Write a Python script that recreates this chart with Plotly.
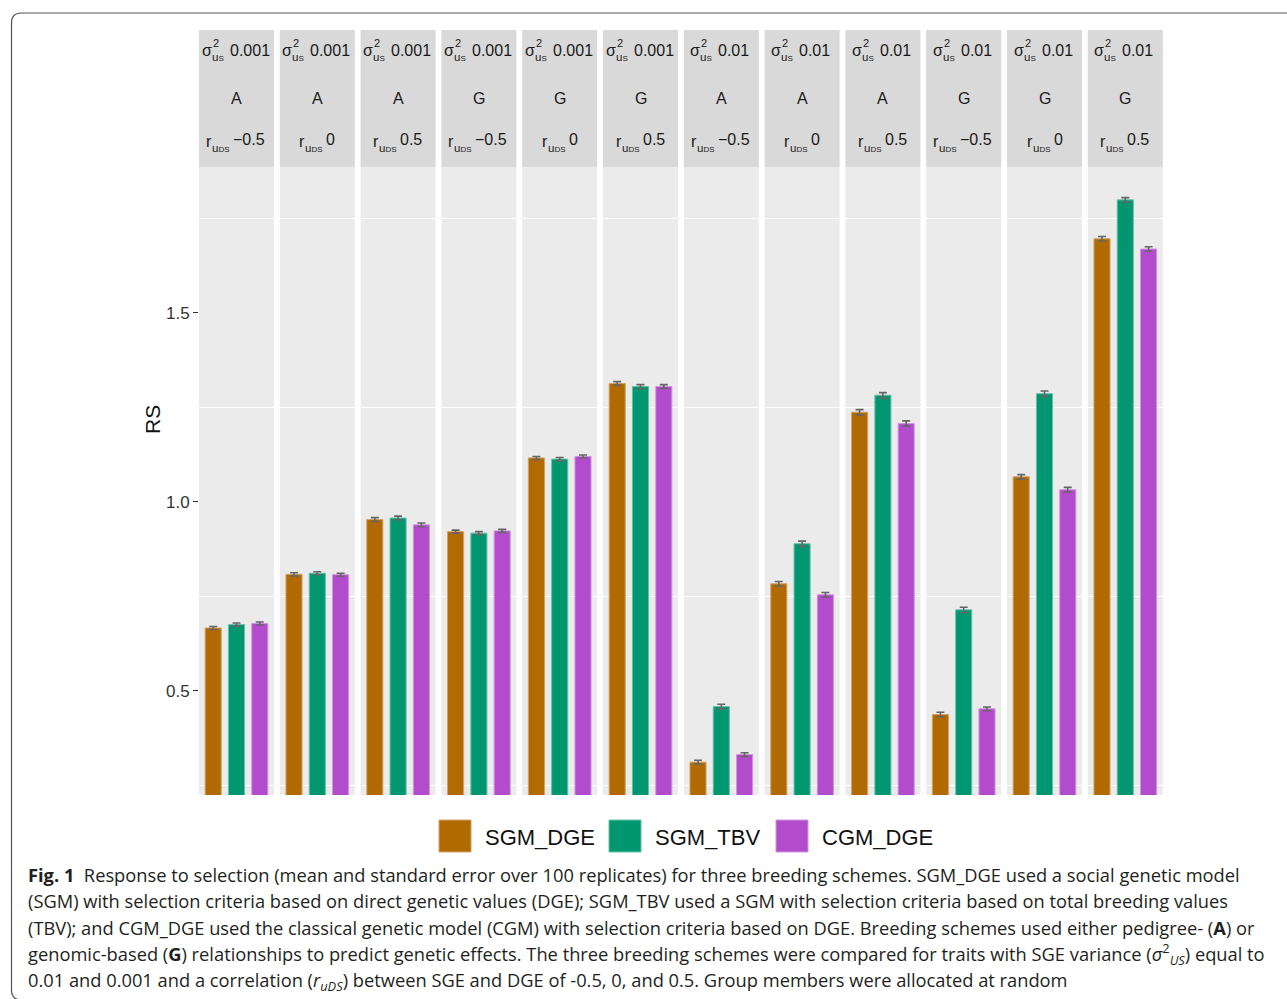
import plotly.graph_objects as go

# ---------------- data ----------------
sge_var = ["0.001"] * 6 + ["0.01"] * 6
relationship = ["A", "A", "A", "G", "G", "G"] * 2
r_uds = ["\u22120.5", "0", "0.5"] * 4
schemes = ["SGM_DGE", "SGM_TBV", "CGM_DGE"]

sgm_dge = [0.666, 0.808, 0.953, 0.921, 1.116, 1.313, 0.311, 0.783, 1.237, 0.437, 1.066, 1.696]
sgm_tbv = [0.675, 0.811, 0.957, 0.917, 1.113, 1.305, 0.458, 0.889, 1.282, 0.714, 1.286, 1.799]
cgm_dge = [0.678, 0.807, 0.939, 0.923, 1.120, 1.305, 0.331, 0.754, 1.207, 0.452, 1.032, 1.669]

se_sgm_dge = [0.004, 0.004, 0.005, 0.004, 0.004, 0.005, 0.005, 0.006, 0.007, 0.006, 0.006, 0.006]
se_sgm_tbv = [0.004, 0.004, 0.005, 0.004, 0.004, 0.005, 0.006, 0.007, 0.007, 0.007, 0.007, 0.006]
se_cgm_dge = [0.004, 0.004, 0.005, 0.004, 0.004, 0.005, 0.005, 0.006, 0.007, 0.005, 0.006, 0.006]

y_ticks = [0.5, 1.0, 1.5]
y_tick_labels = ["0.5", "1.0", "1.5"]
y_grid = [0.25, 0.75, 1.25, 1.75]

values = [sgm_dge, sgm_tbv, cgm_dge]
errors = [se_sgm_dge, se_sgm_tbv, se_cgm_dge]
colors = ["#B06A00", "#00966F", "#B24CCC"]
line_colors = ["#D2A266", "#66C0A9", "#D094E0"]

W, H = 1287, 999
Y_RANGE = [0.224, 1.886]
PANEL_LEFT = 199
PANEL_PITCH = 80.8
PANEL_W = 75
PANEL_TOP = 167
PANEL_BOTTOM = 795
STRIP_TOP = 30

def px(x):
    return x / W

def py(y):
    return 1 - y / H

fig = go.Figure()
n = len(sge_var)
layout_axes = {}
shapes = []
annotations = []
font_family = "Liberation Sans, Arial, sans-serif"
TXT = "#1A1A1A"

for i in range(n):
    xa = "x" if i == 0 else f"x{i+1}"
    ya = "y" if i == 0 else f"y{i+1}"
    left = PANEL_LEFT + i * PANEL_PITCH
    for k in range(3):
        fig.add_trace(go.Bar(
            x=[k], y=[values[k][i]], name=schemes[k],
            xaxis=xa, yaxis=ya, width=0.69,
            marker=dict(color=colors[k], line=dict(color=line_colors[k], width=1)),
            error_y=dict(type="data", array=[errors[k][i]], color="#666666",
                         thickness=1.6, width=4),
            showlegend=False, hoverinfo="skip",
        ))
    xkey = "xaxis" if i == 0 else f"xaxis{i+1}"
    ykey = "yaxis" if i == 0 else f"yaxis{i+1}"
    layout_axes[xkey] = dict(domain=[px(left), px(left + PANEL_W)], range=[-0.61, 2.61],
                             showticklabels=False, showgrid=False, zeroline=False,
                             ticks="", anchor=ya, fixedrange=True)
    layout_axes[ykey] = dict(domain=[py(PANEL_BOTTOM), py(PANEL_TOP)], range=Y_RANGE,
                             anchor=xa, showgrid=False, zeroline=False,
                             tickvals=y_ticks, ticktext=y_tick_labels,
                             showticklabels=(i == 0), ticks="outside" if i == 0 else "",
                             ticklen=5, tickwidth=1.2, tickcolor="#333333",
                             tickfont=dict(size=17, color="#333333", family=font_family),
                             minor=dict(tickvals=y_grid, showgrid=True, gridcolor="white",
                                        gridwidth=1.3, ticks=""),
                             automargin=False)
    # strip background
    shapes.append(dict(type="rect", xref="paper", yref="paper",
                       x0=px(left), x1=px(left + PANEL_W), y0=py(PANEL_TOP), y1=py(STRIP_TOP),
                       fillcolor="#D9D9D9", line=dict(width=0), layer="below"))
    cx = px(left + PANEL_W / 2)
    fs = 16
    # line 1: sigma^2_uS value
    wnum = 40 if sge_var[i] == "0.001" else 32
    total = 8 + 13 + 5 + wnum
    start = -total / 2
    annotations.append(dict(xref="paper", yref="paper", x=cx, y=py(51), xshift=start + 10,
                            xanchor="right", yanchor="middle", showarrow=False,
                            text="\u03c3", font=dict(size=fs, color=TXT, family=font_family)))
    annotations.append(dict(xref="paper", yref="paper", x=cx, y=py(43), xshift=start + 7,
                            xanchor="left", yanchor="middle", showarrow=False,
                            text="2", font=dict(size=11, color=TXT, family=font_family)))
    annotations.append(dict(xref="paper", yref="paper", x=cx, y=py(57), xshift=start + 6,
                            xanchor="left", yanchor="middle", showarrow=False,
                            text="u<span style='font-size:8px'>S</span>",
                            font=dict(size=11.5, color=TXT, family=font_family)))
    annotations.append(dict(xref="paper", yref="paper", x=cx, y=py(51), xshift=start + 24,
                            xanchor="left", yanchor="middle", showarrow=False,
                            text=sge_var[i], font=dict(size=fs, color=TXT, family=font_family)))
    # line 2: relationship
    annotations.append(dict(xref="paper", yref="paper", x=cx, y=py(98),
                            xanchor="center", yanchor="middle", showarrow=False,
                            text=relationship[i], font=dict(size=fs, color=TXT, family=font_family)))
    # line 3: r_uDS value
    wn = {"\u22120.5": 34, "0": 9, "0.5": 23}[r_uds[i]]
    total = 6 + 17 + 4 + wn
    start = -total / 2
    annotations.append(dict(xref="paper", yref="paper", x=cx, y=py(141), xshift=start - 2,
                            xanchor="left", yanchor="middle", showarrow=False,
                            text="r", font=dict(size=fs, color=TXT, family=font_family)))
    annotations.append(dict(xref="paper", yref="paper", x=cx, y=py(148), xshift=start + 4,
                            xanchor="left", yanchor="middle", showarrow=False,
                            text="u<span style='font-size:8px'>DS</span>",
                            font=dict(size=11.5, color=TXT, family=font_family)))
    annotations.append(dict(xref="paper", yref="paper", x=cx, y=py(140), xshift=start + 25,
                            xanchor="left", yanchor="middle", showarrow=False,
                            text=r_uds[i], font=dict(size=fs, color=TXT, family=font_family)))

# y-axis title
annotations.append(dict(xref="paper", yref="paper", x=px(152), y=py(420), textangle=-90,
                        xanchor="center", yanchor="middle", showarrow=False, text="RS",
                        font=dict(size=21, color="#111111", family=font_family)))

# legend (custom)
leg_sq = [439, 609, 776]
for k in range(3):
    shapes.append(dict(type="rect", xref="paper", yref="paper",
                       x0=px(leg_sq[k]), x1=px(leg_sq[k] + 32), y0=py(852), y1=py(820),
                       fillcolor=colors[k], line=dict(color=line_colors[k], width=1)))
    annotations.append(dict(xref="paper", yref="paper", x=px(leg_sq[k] + 44), y=py(837),
                            xanchor="left", yanchor="middle", showarrow=False, text=schemes[k],
                            font=dict(size=22, color="#111111", family=font_family)))

# frame with rounded corners
L, T, B, R = 11.5, 13, 1000, 1300
r = 10
path = (f"M {px(R)} {py(T)} L {px(L + r)} {py(T)} Q {px(L)} {py(T)} {px(L)} {py(T + r)} "
        f"L {px(L)} {py(B - r)} Q {px(L)} {py(B)} {px(L + r)} {py(B)} L {px(R)} {py(B)}")
shapes.append(dict(type="path", xref="paper", yref="paper", path=path,
                   line=dict(color="#555555", width=1.2)))

# caption
cap_font = "Open Sans, Lato, sans-serif"
caption_lines = [
    "<b>Fig. 1</b>  Response to selection (mean and standard error over 100 replicates) for three breeding schemes. SGM_DGE used a social genetic model",
    "(SGM) with selection criteria based on direct genetic values (DGE); SGM_TBV used a SGM with selection criteria based on total breeding values",
    "(TBV); and CGM_DGE used the classical genetic model (CGM) with selection criteria based on DGE. Breeding schemes used either pedigree- (<b>A</b>) or",
    "genomic-based (<b>G</b>) relationships to predict genetic effects. The three breeding schemes were compared for traits with SGE variance (<i>\u03c3</i><sup>2</sup><sub><i>US</i></sub>) equal to",
    "0.01 and 0.001 and a correlation (<i>r</i><sub><i>uDS</i></sub>) between SGE and DGE of -0.5, 0, and 0.5. Group members were allocated at random",
]
cap_y = [874, 900, 927, 954, 981]
for t, yy in zip(caption_lines, cap_y):
    annotations.append(dict(xref="paper", yref="paper", x=px(26), y=py(yy),
                            xanchor="left", yanchor="middle", showarrow=False, text=t,
                            font=dict(size=18.3, color="#231F20", family=cap_font)))

fig.update_layout(
    width=W, height=H, autosize=False,
    margin=dict(l=0, r=0, t=0, b=0, pad=0),
    paper_bgcolor="white", plot_bgcolor="#EBEBEB",
    barmode="overlay", showlegend=False,
    shapes=shapes, annotations=annotations,
    **layout_axes,
)

fig.write_html("out.html", config={"displayModeBar": False},
               post_script="document.body.style.margin='0';")
